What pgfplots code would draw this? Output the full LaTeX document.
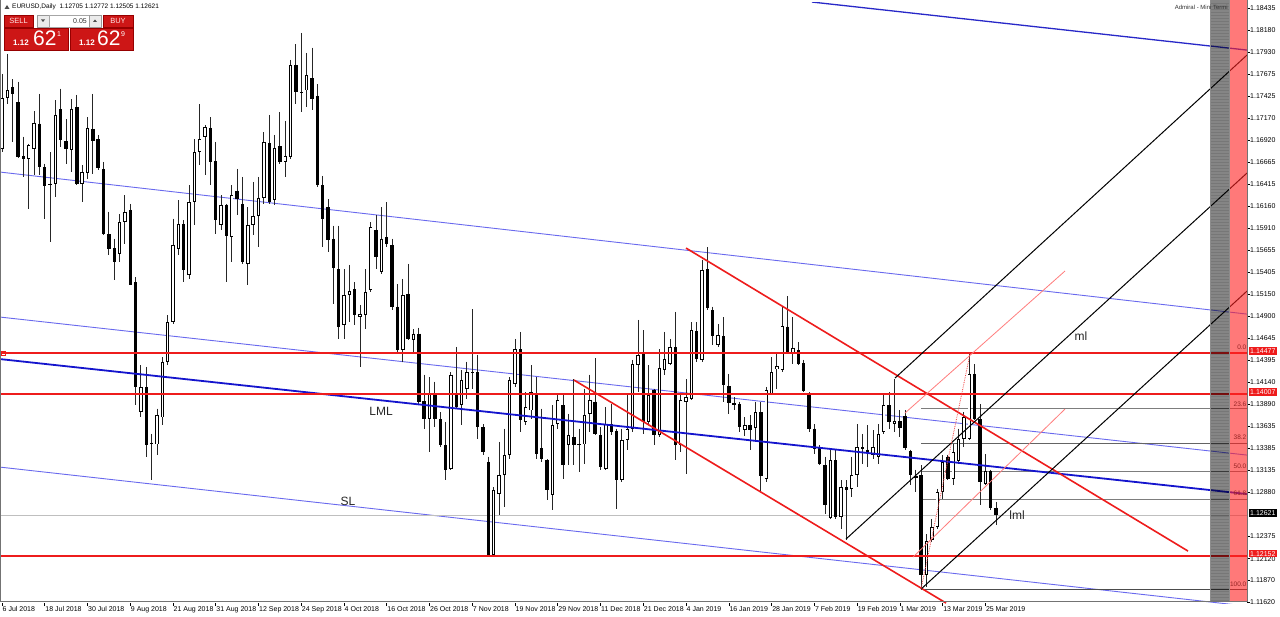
\documentclass[border=0pt]{standalone}
\usepackage{pgfplots}
\usepackage{pgfplotstable}
\pgfplotsset{compat=1.18}
\usepackage{fontspec}
\setmainfont{Liberation Sans}
\definecolor{mtred}{RGB}{238,28,28}
\definecolor{btnred}{RGB}{205,22,22}
\definecolor{btnborder}{RGB}{150,0,0}
\definecolor{chblue}{RGB}{105,105,238}
\definecolor{thickblue}{RGB}{20,20,205}
\definecolor{topblue}{RGB}{40,40,200}
\definecolor{pinkl}{RGB}{255,125,125}
\definecolor{fibtxt}{RGB}{150,35,35}
\definecolor{fibgrey}{RGB}{125,125,125}
\definecolor{colred}{RGB}{255,33,33}

\pgfplotstableread{
i o h l c
0 1.1682 1.1768 1.1678 1.1740
1 1.1740 1.1791 1.1733 1.1749
2 1.1753 1.1762 1.1690 1.1745
3 1.1736 1.1759 1.1672 1.1673
4 1.1674 1.1696 1.1650 1.1670
5 1.1670 1.1688 1.1613 1.1686
6 1.1682 1.1725 1.1652 1.1712
7 1.1711 1.1745 1.1652 1.1661
8 1.1661 1.1665 1.1602 1.1639
9 1.1642 1.1678 1.1575 1.1640
10 1.1642 1.1738 1.1627 1.1721
11 1.1728 1.1751 1.1684 1.1692
12 1.1691 1.1716 1.1665 1.1682
13 1.1681 1.1739 1.1655 1.1728
14 1.1730 1.1744 1.1640 1.1642
15 1.1642 1.1663 1.1621 1.1655
16 1.1654 1.1718 1.1647 1.1706
17 1.1705 1.1745 1.1653 1.1691
18 1.1693 1.1698 1.1658 1.1660
19 1.1659 1.1667 1.1583 1.1584
20 1.1584 1.1610 1.1560 1.1567
21 1.1568 1.1579 1.1532 1.1552
22 1.1561 1.1607 1.1552 1.1598
23 1.1598 1.1629 1.1573 1.1610
24 1.1612 1.1619 1.1526 1.1526
25 1.1529 1.1535 1.1388 1.1409
26 1.1380 1.1434 1.1374 1.1409
27 1.1409 1.1432 1.1329 1.1342
28 1.1345 1.1355 1.1302 1.1343
29 1.1343 1.1384 1.1331 1.1377
30 1.1374 1.1443 1.1365 1.1438
31 1.1438 1.1491 1.1434 1.1483
32 1.1483 1.1602 1.1481 1.1572
33 1.1567 1.1623 1.1560 1.1596
34 1.1596 1.1600 1.1529 1.1543
35 1.1537 1.1640 1.1533 1.1621
36 1.1621 1.1693 1.1595 1.1678
37 1.1678 1.1733 1.1663 1.1693
38 1.1696 1.1709 1.1652 1.1707
39 1.1706 1.1718 1.1640 1.1667
40 1.1668 1.1690 1.1584 1.1600
41 1.1595 1.1629 1.1589 1.1618
42 1.1618 1.1619 1.1529 1.1582
43 1.1581 1.1640 1.1552 1.1629
44 1.1634 1.1659 1.1606 1.1624
45 1.1619 1.1650 1.1550 1.1552
46 1.1550 1.1615 1.1526 1.1595
47 1.1595 1.1644 1.1583 1.1605
48 1.1605 1.1650 1.1569 1.1626
49 1.1626 1.1701 1.1619 1.1690
50 1.1689 1.1721 1.1619 1.1621
51 1.1623 1.1698 1.1618 1.1683
52 1.1685 1.1724 1.1665 1.1667
53 1.1667 1.1714 1.1650 1.1674
54 1.1673 1.1784 1.1670 1.1778
55 1.1778 1.1802 1.1733 1.1747
56 1.1747 1.1815 1.1724 1.1746
57 1.1749 1.1792 1.1730 1.1767
58 1.1763 1.1798 1.1727 1.1739
59 1.1743 1.1756 1.1638 1.1640
60 1.1640 1.1651 1.1569 1.1602
61 1.1615 1.1624 1.1564 1.1577
62 1.1579 1.1594 1.1504 1.1545
63 1.1544 1.1594 1.1464 1.1478
64 1.1480 1.1544 1.1464 1.1514
65 1.1514 1.1549 1.1483 1.1519
66 1.1521 1.1529 1.1480 1.1491
67 1.1489 1.1503 1.1432 1.1493
68 1.1491 1.1544 1.1475 1.1518
69 1.1520 1.1598 1.1518 1.1592
70 1.1589 1.1606 1.1544 1.1558
71 1.1541 1.1615 1.1538 1.1579
72 1.1581 1.1621 1.1569 1.1573
73 1.1572 1.1579 1.1497 1.1501
74 1.1501 1.1527 1.1449 1.1451
75 1.1451 1.1533 1.1438 1.1514
76 1.1516 1.1550 1.1463 1.1464
77 1.1463 1.1475 1.1449 1.1470
78 1.1470 1.1477 1.1388 1.1392
79 1.1393 1.1423 1.1361 1.1372
80 1.1372 1.1420 1.1334 1.1401
81 1.1400 1.1415 1.1363 1.1372
82 1.1372 1.1380 1.1340 1.1342
83 1.1342 1.1369 1.1302 1.1314
84 1.1315 1.1426 1.1314 1.1423
85 1.1400 1.1455 1.1384 1.1386
86 1.1388 1.1428 1.1365 1.1417
87 1.1407 1.1438 1.1395 1.1426
88 1.1426 1.1498 1.1407 1.1425
89 1.1426 1.1446 1.1349 1.1363
90 1.1363 1.1366 1.1331 1.1334
91 1.1323 1.1329 1.1215 1.1216
92 1.1216 1.1294 1.1215 1.1291
93 1.1286 1.1346 1.1262 1.1308
94 1.1308 1.1361 1.1271 1.1331
95 1.1331 1.1420 1.1326 1.1417
96 1.1412 1.1464 1.1409 1.1452
97 1.1452 1.1472 1.1357 1.1371
98 1.1369 1.1403 1.1365 1.1386
99 1.1382 1.1434 1.1372 1.1403
100 1.1400 1.1420 1.1326 1.1332
101 1.1339 1.1384 1.1323 1.1326
102 1.1325 1.1326 1.1279 1.1291
103 1.1285 1.1388 1.1268 1.1365
104 1.1366 1.1400 1.1361 1.1394
105 1.1388 1.1400 1.1303 1.1319
106 1.1342 1.1378 1.1319 1.1354
107 1.1351 1.1418 1.1319 1.1342
108 1.1343 1.1361 1.1311 1.1342
109 1.1343 1.1407 1.1321 1.1377
110 1.1378 1.1423 1.1357 1.1394
111 1.1392 1.1442 1.1354 1.1355
112 1.1354 1.1363 1.1314 1.1317
113 1.1315 1.1386 1.1314 1.1366
114 1.1366 1.1389 1.1354 1.1357
115 1.1358 1.1361 1.1269 1.1302
116 1.1302 1.1361 1.1300 1.1348
117 1.1348 1.1401 1.1337 1.1361
118 1.1361 1.1440 1.1357 1.1435
119 1.1434 1.1486 1.1403 1.1446
120 1.1447 1.1474 1.1355 1.1369
121 1.1369 1.1434 1.1365 1.1400
122 1.1405 1.1407 1.1342 1.1354
123 1.1354 1.1452 1.1351 1.1431
124 1.1428 1.1472 1.1423 1.1441
125 1.1435 1.1464 1.1434 1.1455
126 1.1455 1.1495 1.1325 1.1342
127 1.1342 1.1400 1.1334 1.1394
128 1.1392 1.1418 1.1309 1.1397
129 1.1395 1.1483 1.1394 1.1474
130 1.1473 1.1483 1.1438 1.1441
131 1.1440 1.1555 1.1438 1.1543
132 1.1544 1.1569 1.1497 1.1499
133 1.1497 1.1501 1.1457 1.1467
134 1.1457 1.1481 1.1455 1.1468
135 1.1467 1.1489 1.1392 1.1411
136 1.1410 1.1424 1.1378 1.1390
137 1.1390 1.1397 1.1382 1.1388
138 1.1389 1.1392 1.1357 1.1363
139 1.1360 1.1374 1.1353 1.1365
140 1.1365 1.1377 1.1337 1.1360
141 1.1362 1.1392 1.1346 1.1380
142 1.1380 1.1392 1.1288 1.1307
143 1.1303 1.1409 1.1300 1.1405
144 1.1401 1.1443 1.1400 1.1426
145 1.1429 1.1447 1.1407 1.1433
146 1.1428 1.1501 1.1426 1.1479
147 1.1478 1.1513 1.1447 1.1448
148 1.1448 1.1489 1.1435 1.1454
149 1.1451 1.1460 1.1434 1.1435
150 1.1436 1.1440 1.1403 1.1404
151 1.1402 1.1403 1.1357 1.1361
152 1.1361 1.1366 1.1332 1.1338
153 1.1340 1.1342 1.1319 1.1321
154 1.1319 1.1329 1.1263 1.1273
155 1.1259 1.1338 1.1257 1.1325
156 1.1325 1.1337 1.1257 1.1260
157 1.1260 1.1302 1.1246 1.1294
158 1.1294 1.1302 1.1233 1.1291
159 1.1292 1.1329 1.1283 1.1308
160 1.1308 1.1366 1.1294 1.1340
161 1.1340 1.1355 1.1321 1.1338
162 1.1337 1.1365 1.1317 1.1333
163 1.1331 1.1359 1.1326 1.1340
164 1.1329 1.1366 1.1321 1.1355
165 1.1357 1.1401 1.1355 1.1388
166 1.1388 1.1403 1.1361 1.1369
167 1.1366 1.1418 1.1357 1.1370
168 1.1370 1.1382 1.1351 1.1362
169 1.1376 1.1382 1.1337 1.1339
170 1.1335 1.1337 1.1296 1.1308
171 1.1307 1.1314 1.1288 1.1304
172 1.1308 1.1319 1.1177 1.1193
173 1.1193 1.1240 1.1179 1.1232
174 1.1233 1.1257 1.1231 1.1248
175 1.1248 1.1292 1.1246 1.1288
176 1.1288 1.1331 1.1280 1.1323
177 1.1329 1.1331 1.1302 1.1303
178 1.1303 1.1343 1.1296 1.1334
179 1.1324 1.1361 1.1321 1.1349
180 1.1349 1.1380 1.1340 1.1374
181 1.1349 1.1447 1.1348 1.1424
182 1.1424 1.1435 1.1371 1.1372
183 1.1372 1.1389 1.1273 1.1300
184 1.1298 1.1332 1.1296 1.1312
185 1.1312 1.1314 1.1268 1.1270
186 1.12705 1.12772 1.12505 1.12621
}\candles

\begin{document}
\begin{tikzpicture}[x=1pt,y=1pt]
\path[use as bounding box] (0,0) rectangle (1280,617);
\fill[white] (0,0) rectangle (1280,617);
\begin{axis}[
  at={(0,16)}, anchor=south west, scale only axis,
  width=1247pt, height=601pt,
  xmin=-0.374, xmax=232.97, ymin=1.11611, ymax=1.18504,
  axis line style={draw=none},
  tick align=outside, major tick length=3pt,
  every tick/.style={black, line width=0.6pt},
  ytick pos=right, yticklabel pos=right, xtick pos=bottom,
  ytick={1.18435,1.18180,1.17930,1.17675,1.17425,1.17170,1.16920,1.16665,1.16415,1.16160,1.15910,1.15655,1.15405,1.15150,1.14900,1.14645,1.14395,1.14140,1.13890,1.13635,1.13385,1.13135,1.12880,1.12375,1.12120,1.11870,1.11620},
  yticklabels={1.18435,1.18180,1.17930,1.17675,1.17425,1.17170,1.16920,1.16665,1.16415,1.16160,1.15910,1.15655,1.15405,1.15150,1.14900,1.14645,1.14395,1.14140,1.13890,1.13635,1.13385,1.13135,1.12880,1.12375,1.12120,1.11870,1.11620},
  yticklabel style={font=\fontsize{7}{8}\selectfont, anchor=west, inner sep=0pt, xshift=0pt},
  xtick={0,8,...,184},
  xticklabels={6 Jul 2018,18 Jul 2018,30 Jul 2018,9 Aug 2018,21 Aug 2018,31 Aug 2018,12 Sep 2018,24 Sep 2018,4 Oct 2018,16 Oct 2018,26 Oct 2018,7 Nov 2018,19 Nov 2018,29 Nov 2018,11 Dec 2018,21 Dec 2018,4 Jan 2019,16 Jan 2019,28 Jan 2019,7 Feb 2019,19 Feb 2019,1 Mar 2019,13 Mar 2019,25 Mar 2019},
  xticklabel style={font=\fontsize{7}{8}\selectfont, anchor=north west, inner sep=0pt, xshift=0.5pt},
  clip=true,
]
\addplot[chblue, line width=0.9pt, forget plot] coordinates {(-0.374,1.16554) (232.97,1.14925)};
\addplot[chblue, line width=0.9pt, forget plot] coordinates {(-0.374,1.14891) (232.97,1.13308)};
\addplot[chblue, line width=0.9pt, forget plot] coordinates {(-0.374,1.13170) (232.97,1.11576)};
\addplot[topblue, line width=1.3pt, forget plot] coordinates {(151.57,1.18504) (232.97,1.17953)};
\addplot[black!25, line width=0.8pt, forget plot] coordinates {(-0.374,1.12621) (232.97,1.12621)};
\addplot[fibgrey, line width=0.9pt, forget plot] coordinates {(171.97,1.13838) (232.97,1.13838)};
\addplot[fibgrey!80!black, line width=0.9pt, forget plot] coordinates {(171.97,1.13443) (232.97,1.13443)};
\addplot[fibgrey, line width=0.9pt, forget plot] coordinates {(171.97,1.13124) (232.97,1.13124)};
\addplot[fibgrey, line width=0.9pt, forget plot] coordinates {(171.97,1.12804) (232.97,1.12804)};
\addplot[black!70, line width=0.9pt, forget plot] coordinates {(171.97,1.11770) (232.97,1.11770)};
\addplot[draw=none, mark=none, forget plot,
  error bars/.cd, y dir=minus, y explicit, error mark=none,
  error bar style={draw=black!85, solid, line width=0.9pt}]
  table[x=i, y=h, y error expr={\thisrow{h}-\thisrow{l}}] {\candles};
\addplot[draw=none, mark=none, forget plot,
  error bars/.cd, y dir=minus, y explicit, error mark=none,
  error bar style={draw=black, solid, line width=3.4pt}]
  table[x=i, y expr={max(\thisrow{o},\thisrow{c})}, y error expr={abs(\thisrow{o}-\thisrow{c})}] {\candles};
\addplot[draw=none, mark=none, forget plot,
  error bars/.cd, y dir=minus, y explicit, error mark=none,
  error bar style={draw=white, solid, line width=1.6pt, shorten <=0.9pt, shorten >=0.9pt}]
  table[x=i, y expr={\thisrow{c}-\thisrow{o}>0.00025 ? \thisrow{c} : nan}, y error expr={\thisrow{c}-\thisrow{o}}] {\candles};
\addplot[thickblue, line width=1.8pt, forget plot] coordinates {(-0.374,1.14409) (232.97,1.12861)};
\addplot[mtred, line width=1.5pt, forget plot] coordinates {(-0.374,1.14477) (232.97,1.14477)};
\addplot[mtred, line width=1.5pt, forget plot] coordinates {(-0.374,1.14007) (232.97,1.14007)};
\addplot[mtred, line width=1.5pt, forget plot] coordinates {(-0.374,1.12152) (232.97,1.12152)};
\addplot[only marks, mark=square, mark size=2pt, mtred, mark options={line width=0.7pt, fill=white}, forget plot] coordinates {(0.19,1.14477)};
\addplot[mtred, line width=1.6pt, forget plot] coordinates {(128.0,1.15682) (221.93,1.12207)};
\addplot[mtred, line width=1.6pt, forget plot] coordinates {(107.04,1.14168) (176.65,1.11611)};
\addplot[black, line width=1pt, forget plot] coordinates {(167.10,1.14191) (232.97,1.17896)};
\addplot[black, line width=1pt, forget plot] coordinates {(157.93,1.12345) (232.97,1.16543)};
\addplot[black, line width=1pt, forget plot] coordinates {(171.97,1.11771) (232.97,1.15189)};
\addplot[pinkl, line width=0.8pt, forget plot] coordinates {(168.97,1.13790) (198.91,1.15419)};
\addplot[pinkl, line width=0.8pt, forget plot] coordinates {(170.47,1.12138) (198.91,1.13836)};
\addplot[mtred!80, line width=0.8pt, densely dotted, forget plot] coordinates {(171.97,1.11771) (181.14,1.14467)};
\end{axis}
\draw[black!55, line width=0.8pt] (0.4,617) -- (0.4,16) -- (1247,16) -- (1247,617);
\fill[black, opacity=0.48] (1210,16) rectangle (1229,617);
\foreach \k in {0,...,199} {\draw[black, opacity=0.10, line width=0.8pt] (1210,{17+3*\k}) -- (1229,{17+3*\k});}
\fill[colred, opacity=0.6] (1229,16) rectangle (1247,617);
\draw[black!45, line width=0.5pt] (1210,16) -- (1210,617);
\draw[black!45, line width=0.5pt] (1229,16) -- (1229,617);
\begin{scope}[every node/.style={font=\fontsize{6.5}{7}\selectfont, text=fibtxt, anchor=east, inner sep=0.5pt}]
\node at (1247,270) {0.0};
\node at (1247,213) {23.6};
\node at (1247,180) {38.2};
\node at (1247,151) {50.0};
\node at (1247,124) {61.8};
\node at (1247,33) {100.0};
\end{scope}
\begin{scope}[every node/.style={font=\fontsize{7}{8}\selectfont, text=white, anchor=west, inner xsep=1pt, inner ysep=1.2pt}]
\node[fill=mtred] at (1249,265.9) {1.14477};
\node[fill=mtred] at (1249,224.9) {1.14007};
\node[fill=black] at (1249,104.1) {1.12621};
\node[fill=mtred] at (1249,63.2) {1.12152};
\end{scope}
\begin{scope}[every node/.style={font=\fontsize{12}{13}\selectfont, text=black!85, inner sep=0pt}]
\node at (381,206) {LML};
\node at (348,116) {SL};
\node at (1081,281) {ml};
\node at (1017,102) {lml};
\end{scope}
\fill[black!70] (4.5,608) -- (9.5,608) -- (7,612) -- cycle;
\node[anchor=west, inner sep=0pt, font=\fontsize{6.5}{7}\selectfont] at (12,610) {EURUSD,Daily\ \ 1.12705 1.12772 1.12505 1.12621};
\node[anchor=east, inner sep=0pt, font=\fontsize{6}{7}\selectfont, text=black!80] at (1228,610) {Admiral - Mini Termi};
\fill[btnred, draw=btnborder, line width=0.5pt] (4,590) rectangle (33,602);
\node[text=white!90!red, font=\fontsize{7.5}{8}\selectfont, inner sep=0pt] at (18.5,596) {SELL};
\fill[black!8, draw=black!40, line width=0.5pt] (37,590) rectangle (49,602);
\fill[black!70] (41,597.5) -- (45,597.5) -- (43,595) -- cycle;
\fill[white, draw=black!35, line width=0.5pt] (49,590) rectangle (89,602);
\node[anchor=east, font=\fontsize{7}{8}\selectfont, inner sep=0pt, text=black!80] at (87,596) {0.05};
\fill[black!8, draw=black!40, line width=0.5pt] (89,590) rectangle (101,602);
\fill[black!70] (93,595) -- (97,595) -- (95,597.5) -- cycle;
\fill[btnred, draw=btnborder, line width=0.5pt] (103,590) rectangle (133,602);
\node[text=white!90!red, font=\fontsize{7.5}{8}\selectfont, inner sep=0pt] at (118,596) {BUY};
\fill[btnred, draw=btnborder, line width=0.5pt] (4,567) rectangle (68,589);
\fill[btnred, draw=btnborder, line width=0.5pt] (70,567) rectangle (133,589);
\node[anchor=base west, text=white, inner sep=0pt, font=\bfseries\fontsize{8}{9}\selectfont] at (13,571) {1.12};
\node[anchor=base west, text=white, inner sep=0pt, font=\fontsize{21}{22}\selectfont] at (33,571) {62};
\node[anchor=base west, text=white, inner sep=0pt, font=\fontsize{7}{8}\selectfont] at (57,580) {1};
\node[anchor=base west, text=white, inner sep=0pt, font=\bfseries\fontsize{8}{9}\selectfont] at (79,571) {1.12};
\node[anchor=base west, text=white, inner sep=0pt, font=\fontsize{21}{22}\selectfont] at (97,571) {62};
\node[anchor=base west, text=white, inner sep=0pt, font=\fontsize{7}{8}\selectfont] at (121,580) {9};
\end{tikzpicture}
\end{document}
